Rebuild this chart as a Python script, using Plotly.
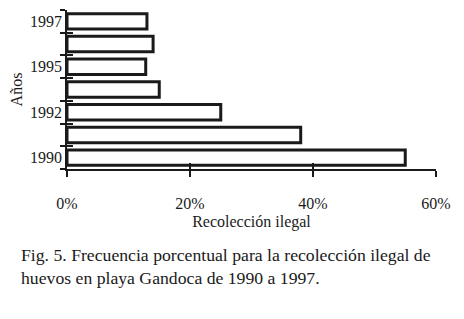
import plotly.graph_objects as go

years = ["1990", "1991", "1992", "1993", "1995", "1996", "1997"]
values = [55, 38, 25, 15, 12.8, 14, 13]
year_labels = ["1990", "", "1992", "", "1995", "", "1997"]
x_ticks = [0, 20, 40, 60]
x_tick_labels = ["0%", "20%", "40%", "60%"]

FONT = "Liberation Serif, Times New Roman, serif"
INK = "#1a1a1a"

fig = go.Figure()
fig.add_trace(go.Bar(
    y=years, x=values, orientation="h",
    marker=dict(color="white", line=dict(color=INK, width=3)),
    width=0.68, hoverinfo="skip", showlegend=False,
))
# invisible twin trace to carry the inner tick marks
fig.add_trace(go.Bar(
    y=years, x=values, orientation="h", xaxis="x2", yaxis="y2",
    marker=dict(color="rgba(0,0,0,0)", line=dict(width=0)),
    hoverinfo="skip", showlegend=False,
))

# page body has an 8px default margin, so the figure is 8px smaller and shifted
OFF = 8
W, H = 464 - OFF, 319 - OFF
L, R, T, B = 67 - OFF, 28, 10 - OFF, 150
ph = H - T - B

fig.update_layout(
    width=W, height=H,
    margin=dict(l=L, r=R, t=T, b=B, autoexpand=False),
    paper_bgcolor="white", plot_bgcolor="white",
    font=dict(family=FONT, size=16, color=INK),
    xaxis=dict(
        range=[0, 60], tickmode="array", tickvals=x_ticks, ticktext=x_tick_labels,
        ticks="outside", ticklen=6, tickwidth=1.5, tickcolor=INK,
        showline=True, linecolor=INK, linewidth=1.5, showgrid=False, zeroline=False,
        ticklabelstandoff=13, automargin=False,
        title=dict(text="Recolección ilegal", standoff=5, font=dict(size=16)),
    ),
    yaxis=dict(
        type="category", categoryorder="array", categoryarray=years,
        range=[-0.5, 6.5], tickmode="array", tickvals=years, ticktext=year_labels,
        tickson="boundaries", ticks="outside", ticklen=5, tickwidth=1.5, tickcolor=INK,
        showline=True, linecolor=INK, linewidth=1.5, showgrid=False, zeroline=False,
        automargin=False,
        title=dict(text="Años", standoff=10, font=dict(size=16)),
    ),
    xaxis2=dict(
        overlaying="x", range=[0, 60], tickmode="array", tickvals=x_ticks,
        ticks="inside", ticklen=6, tickwidth=1.5, tickcolor=INK,
        showticklabels=False, showline=False, showgrid=False, zeroline=False,
    ),
    yaxis2=dict(
        overlaying="y", type="category", categoryorder="array", categoryarray=years,
        range=[-0.5, 6.5], tickmode="array", tickvals=years, ticktext=year_labels,
        tickson="boundaries", ticks="inside", ticklen=6, tickwidth=1.5, tickcolor=INK,
        showticklabels=False, showline=False, showgrid=False, zeroline=False,
    ),
    bargap=0.32,
)

def py(pix):
    return (H - B - (pix - OFF)) / ph

def px_(pix):
    return (pix - OFF - L) / (W - L - R)

captions = [
    "Fig. 5. Frecuencia porcentual para la recolección ilegal de",
    "huevos en playa Gandoca de 1990 a 1997.",
]
for i, line in enumerate(captions):
    fig.add_annotation(
        text=line, xref="paper", yref="paper", x=px_(19), y=py(255 + 23 * i),
        xanchor="left", yanchor="middle", showarrow=False,
        font=dict(family=FONT, size=17.7, color=INK),
    )

fig.write_html("out.html")
